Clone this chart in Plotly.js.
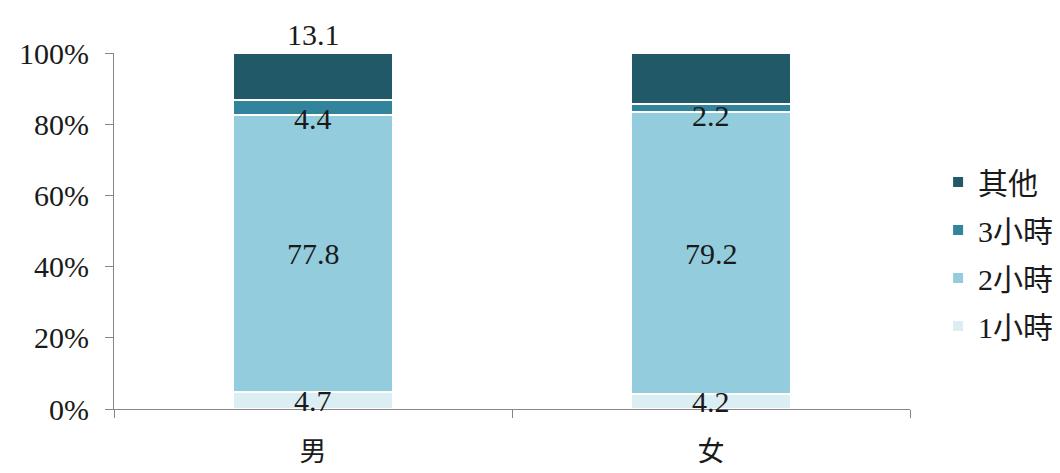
<!DOCTYPE html>
<html>
<head>
<meta charset="utf-8">
<script src="https://cdn.plot.ly/plotly-3.0.1.min.js"></script>
<style>html,body{margin:0;padding:0;background:#fff;}#chart{width:1060px;height:473px;}</style>
</head>
<body>
<div id="chart"></div>
<script>
const categories = ["男", "女"];
const seriesNames = ["1小時", "2小時", "3小時", "其他"];
const h1 = [4.7, 4.2];
const h2 = [77.8, 79.2];
const h3 = [4.4, 2.2];
const other = [13.1, 14.4];
const yTicks = [0, 20, 40, 60, 80, 100];
const colors = ["#DBEEF3", "#93CDDD", "#31849B", "#215968"];

const series = [h1, h2, h3, other];
const fontFam = '"Liberation Serif", "Times New Roman", "Noto Sans CJK TC", serif';

const traces = series.map((vals, i) => ({
  type: "bar",
  name: seriesNames[i],
  x: categories,
  y: vals,
  legendgroup: "g" + i,
  legendrank: 10 - i,
  marker: {color: colors[i], line: {color: "#ffffff", width: 2}},
  hoverinfo: "skip"
}));

// labels
const annotations = [];
categories.forEach((c, j) => {
  let base = 0;
  series.forEach((vals, i) => {
    const v = vals[j];
    let ann = {x: c, showarrow: false, text: String(v),
      font: {family: fontFam, size: 30, color: "#1a1a1a"}};
    if (i === 3) {
      ann.y = base + v; ann.yanchor = "bottom"; ann.yshift = 0;
    } else if (i === 2) {
      ann.y = base; ann.yanchor = "middle"; ann.yshift = -3;
    } else {
      ann.y = base + v / 2; ann.yanchor = "middle";
    }
    annotations.push(ann);
    base += v;
  });
});

const layout = {
  width: 1060, height: 473,
  margin: {l: 114, r: 150, t: 53, b: 64},
  barmode: "stack",
  bargap: 0.6,
  paper_bgcolor: "#ffffff",
  plot_bgcolor: "#ffffff",
  showlegend: true,
  font: {family: fontFam, size: 30, color: "#1a1a1a"},
  xaxis: {
    type: "category",
    showline: true, linecolor: "#868686", linewidth: 1,
    ticks: "outside", tickson: "boundaries", ticklen: 8, tickcolor: "#868686",
    showgrid: false, zeroline: false,
    tickfont: {family: '"Noto Sans CJK TC", serif', size: 27, color: "#1a1a1a"},
    ticklabelstandoff: 19
  },
  yaxis: {
    range: [0, 100],
    tickvals: yTicks,
    ticktext: yTicks.map(v => v + "%"),
    showline: true, linecolor: "#868686", linewidth: 1,
    ticks: "outside", ticklen: 8, tickcolor: "#868686",
    showgrid: false, zeroline: false,
    tickfont: {family: fontFam, size: 30, color: "#1a1a1a"},
    ticklabelstandoff: 10
  },
  legend: {
    xref: "container", yref: "container",
    x: 0.885, xanchor: "left", y: (473 - 254) / 473, yanchor: "middle",
    traceorder: "grouped",
    tracegroupgap: 6,
    font: {family: '"Liberation Serif", "Noto Sans CJK TC", serif', size: 30, color: "#1a1a1a"},
    bgcolor: "rgba(0,0,0,0)"
  },
  annotations: annotations
};

Plotly.newPlot("chart", traces, layout, {staticPlot: true, displayModeBar: false});
</script>
</body>
</html>
